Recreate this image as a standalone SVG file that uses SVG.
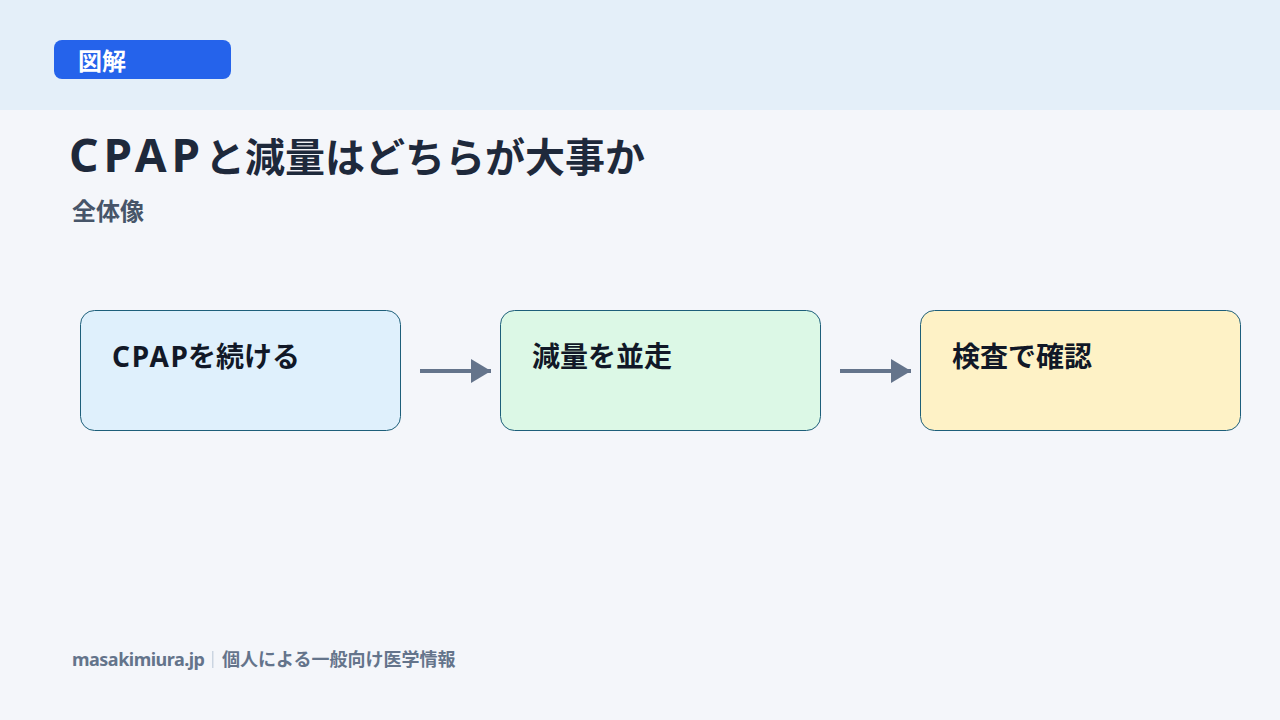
<svg xmlns="http://www.w3.org/2000/svg" width="1280" height="720" viewBox="0 0 1280 720">
<defs>
<style>
.t{font-family:"Noto Sans CJK JP","Noto Sans",sans-serif;font-weight:700}
.lat{font-family:"Noto Sans","Noto Sans CJK JP",sans-serif;font-weight:700}
.box{stroke:#1d5f7a;stroke-width:1}
.lbl{font-size:28px;fill:#111827}
.conn{stroke:#64748b;stroke-width:4;fill:none}
.ft{font-size:18px;fill:#64748b}
</style>
<marker id="ah" markerUnits="userSpaceOnUse" markerWidth="22" markerHeight="24" refX="20" refY="12" orient="auto">
<path d="M0,0 L20,12 L0,24 Z" fill="#64748b"/>
</marker>
</defs>
<rect width="1280" height="720" fill="#f4f6fa"/>
<rect width="1280" height="110" fill="#e4eff9"/>
<g id="badge">
<rect x="54" y="40" width="177" height="39" rx="8" fill="#2563eb"/>
<text class="t" x="78" y="70" font-size="24" fill="#ffffff">図解</text>
</g>
<g id="title">
<text class="lat" x="69" y="172" font-size="46" fill="#1e293b" textLength="131" lengthAdjust="spacing">CPAP</text>
<text class="t" x="205" y="172" font-size="40" fill="#1e293b">と減量はどちらが大事か</text>
<text class="t" x="72" y="220" font-size="24" fill="#475569">全体像</text>
</g>
<g id="connectors">
<line class="conn" x1="420" y1="371" x2="491" y2="371" marker-end="url(#ah)"/>
<line class="conn" x1="840" y1="371" x2="911" y2="371" marker-end="url(#ah)"/>
</g>
<g id="n1">
<rect class="box" x="80.5" y="310.5" width="320" height="120" rx="14" fill="#dff0fc"/>
<text class="lat lbl" x="112" y="367" textLength="76" lengthAdjust="spacing">CPAP</text>
<text class="t lbl" x="188" y="367">を続ける</text>
</g>
<g id="n2">
<rect class="box" x="500.5" y="310.5" width="320" height="120" rx="14" fill="#dcf8e6"/>
<text class="t lbl" x="532" y="367">減量を並走</text>
</g>
<g id="n3">
<rect class="box" x="920.5" y="310.5" width="320" height="120" rx="14" fill="#fef2c6"/>
<text class="t lbl" x="952" y="367">検査で確認</text>
</g>
<g id="footer">
<text class="lat ft" x="72" y="666" font-size="17" textLength="133" lengthAdjust="spacing">masakimiura.jp</text>
<rect x="212" y="651" width="1.5" height="17" fill="#cbd5e1"/>
<text class="t ft" x="222" y="666">個人による一般向け医学情報</text>
</g>
</svg>
